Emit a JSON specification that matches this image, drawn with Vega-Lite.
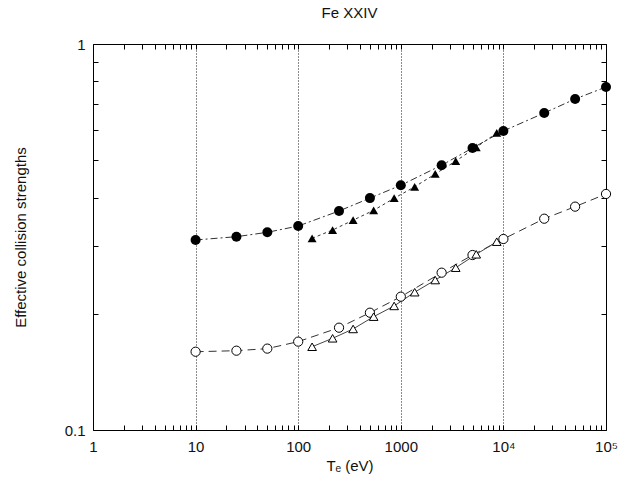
{
  "$schema": "https://vega.github.io/schema/vega-lite/v6.json",
  "width": 513,
  "height": 386,
  "autosize": {"type": "none"},
  "padding": {"left": 93, "top": 44, "right": 21, "bottom": 55},
  "background": "white",
  "config": {
    "view": {"stroke": "#000", "strokeWidth": 1},
    "font": "Liberation Sans",
    "axis": {
      "labelFont": "Liberation Sans",
      "labelFontSize": 15,
      "labelColor": "#111",
      "titleFont": "Liberation Sans",
      "titleFontSize": 15,
      "titleFontWeight": "normal",
      "titleColor": "#111",
      "tickColor": "#000",
      "tickWidth": 1,
      "domain": false,
      "labelOverlap": false,
      "labelFlush": false,
      "labelBound": false
    }
  },
  "title": {"text": "Fe XXIV", "font": "Liberation Sans", "fontSize": 15, "fontWeight": "normal", "color": "#111", "offset": 16},
  "data": {
    "values": [
      {"series": "fc", "T": 10, "v": 0.3107},
      {"series": "fc", "T": 25, "v": 0.3168},
      {"series": "fc", "T": 50, "v": 0.3252},
      {"series": "fc", "T": 100, "v": 0.3376},
      {"series": "fc", "T": 250, "v": 0.3693},
      {"series": "fc", "T": 500, "v": 0.3988},
      {"series": "fc", "T": 1000, "v": 0.4305},
      {"series": "fc", "T": 2500, "v": 0.4853},
      {"series": "fc", "T": 5000, "v": 0.5377},
      {"series": "fc", "T": 10000, "v": 0.5953},
      {"series": "fc", "T": 25000, "v": 0.6626},
      {"series": "fc", "T": 50000, "v": 0.7204},
      {"series": "fc", "T": 100000, "v": 0.7737},
      {"series": "oc", "T": 10, "v": 0.1595},
      {"series": "oc", "T": 25, "v": 0.1605},
      {"series": "oc", "T": 50, "v": 0.1625},
      {"series": "oc", "T": 100, "v": 0.1694},
      {"series": "oc", "T": 250, "v": 0.1841},
      {"series": "oc", "T": 500, "v": 0.2013},
      {"series": "oc", "T": 1000, "v": 0.2215},
      {"series": "oc", "T": 2500, "v": 0.2556},
      {"series": "oc", "T": 5000, "v": 0.284},
      {"series": "oc", "T": 10000, "v": 0.3125},
      {"series": "oc", "T": 25000, "v": 0.3527},
      {"series": "oc", "T": 50000, "v": 0.379},
      {"series": "oc", "T": 100000, "v": 0.4088},
      {"series": "ft", "T": 136.6, "v": 0.3138},
      {"series": "ft", "T": 216.4, "v": 0.3297},
      {"series": "ft", "T": 343.0, "v": 0.3496},
      {"series": "ft", "T": 543.6, "v": 0.3708},
      {"series": "ft", "T": 861.6, "v": 0.3985},
      {"series": "ft", "T": 1365.5, "v": 0.4266},
      {"series": "ft", "T": 2164.2, "v": 0.4605},
      {"series": "ft", "T": 3430.0, "v": 0.4975},
      {"series": "ft", "T": 5436.2, "v": 0.54},
      {"series": "ft", "T": 8615.6, "v": 0.5882},
      {"series": "ot", "T": 136.6, "v": 0.1643},
      {"series": "ot", "T": 216.4, "v": 0.1728},
      {"series": "ot", "T": 343.0, "v": 0.1827},
      {"series": "ot", "T": 543.6, "v": 0.1966},
      {"series": "ot", "T": 861.6, "v": 0.2096},
      {"series": "ot", "T": 1365.5, "v": 0.2275},
      {"series": "ot", "T": 2164.2, "v": 0.2446},
      {"series": "ot", "T": 3430.0, "v": 0.2633},
      {"series": "ot", "T": 5436.2, "v": 0.2852},
      {"series": "ot", "T": 8615.6, "v": 0.3075}
    ]
  },
  "encoding": {
    "x": {"field": "T", "type": "quantitative", "scale": {"type": "log", "domain": [1, 100000], "nice": false}, "axis": null},
    "y": {"field": "v", "type": "quantitative", "scale": {"type": "log", "domain": [0.1, 1], "nice": false}, "axis": null}
  },
  "resolve": {"axis": {"x": "independent", "y": "independent"}},
  "layer": [
    {
      "transform": [{"filter": "datum.series == 'fc'"}],
      "mark": {"type": "line", "stroke": "#333", "strokeWidth": 1, "strokeDash": [7, 3, 2, 3]},
      "encoding": {
        "x": {
          "field": "T", "type": "quantitative", "scale": {"type": "log", "domain": [1, 100000], "nice": false},
          "axis": {
            "orient": "bottom",
            "values": [1,2,3,4,5,6,7,8,9,10,20,30,40,50,60,70,80,90,100,200,300,400,500,600,700,800,900,1000,2000,3000,4000,5000,6000,7000,8000,9000,10000,20000,30000,40000,50000,60000,70000,80000,90000,100000],
            "labelExpr": "datum.value == 1 ? '1' : datum.value == 10 ? '10' : datum.value == 100 ? '100' : datum.value == 1000 ? '1000' : datum.value == 10000 ? '10⁴' : datum.value == 100000 ? '10⁵' : ''",
            "tickSize": -5,
            "grid": true,
            "gridColor": "#000",
            "gridDash": [1, 2],
            "gridOpacity": {"condition": {"test": "indexof([10,100,1000,10000], datum.value) >= 0", "value": 0.9}, "value": 0},
            "labelPadding": 14,
            "title": "Tₑ (eV)",
            "titlePadding": 4
          }
        },
        "y": {
          "field": "v", "type": "quantitative", "scale": {"type": "log", "domain": [0.1, 1], "nice": false},
          "axis": {
            "orient": "left",
            "values": [0.1,0.2,0.3,0.4,0.5,0.6,0.7,0.8,0.9,1],
            "labelExpr": "datum.value == 1 ? '1' : datum.value == 0.1 ? '0.1' : ''",
            "tickSize": -5,
            "grid": false,
            "labelPadding": 13,
            "title": "Effective collision strengths",
            "titlePadding": 36
          }
        }
      }
    },
    {
      "transform": [{"filter": "datum.series == 'ft'"}],
      "mark": {"type": "line", "stroke": "#333", "strokeWidth": 1, "strokeDash": [3, 3]},
      "encoding": {
        "x": {
          "field": "T", "type": "quantitative", "scale": {"type": "log", "domain": [1, 100000], "nice": false},
          "axis": {
            "orient": "top",
            "values": [1,2,3,4,5,6,7,8,9,10,20,30,40,50,60,70,80,90,100,200,300,400,500,600,700,800,900,1000,2000,3000,4000,5000,6000,7000,8000,9000,10000,20000,30000,40000,50000,60000,70000,80000,90000,100000],
            "labels": false,
            "tickSize": -5,
            "grid": false,
            "title": null
          }
        },
        "y": {
          "field": "v", "type": "quantitative", "scale": {"type": "log", "domain": [0.1, 1], "nice": false},
          "axis": {
            "orient": "right",
            "values": [0.1,0.2,0.3,0.4,0.5,0.6,0.7,0.8,0.9,1],
            "labels": false,
            "tickSize": -5,
            "grid": false,
            "title": null
          }
        }
      }
    },
    {
      "transform": [{"filter": "datum.series == 'oc'"}],
      "mark": {"type": "line", "stroke": "#333", "strokeWidth": 1, "strokeDash": [8, 5]}
    },
    {
      "transform": [{"filter": "datum.series == 'ot'"}],
      "mark": {"type": "line", "stroke": "#444", "strokeWidth": 1}
    },
    {
      "transform": [{"filter": "datum.series == 'fc'"}],
      "mark": {"type": "point", "shape": "circle", "filled": true, "fill": "#000", "stroke": null, "size": 100, "opacity": 1}
    },
    {
      "transform": [{"filter": "datum.series == 'ft'"}],
      "mark": {"type": "point", "shape": "triangle-up", "filled": true, "fill": "#000", "stroke": null, "size": 80, "opacity": 1}
    },
    {
      "transform": [{"filter": "datum.series == 'oc'"}],
      "mark": {"type": "point", "shape": "circle", "filled": false, "fill": "#fff", "fillOpacity": 1, "stroke": "#000", "strokeWidth": 1, "size": 85, "opacity": 1}
    },
    {
      "transform": [{"filter": "datum.series == 'ot'"}],
      "mark": {"type": "point", "shape": "triangle-up", "filled": false, "fill": "#fff", "fillOpacity": 1, "stroke": "#000", "strokeWidth": 1, "size": 75, "opacity": 1}
    }
  ]
}
